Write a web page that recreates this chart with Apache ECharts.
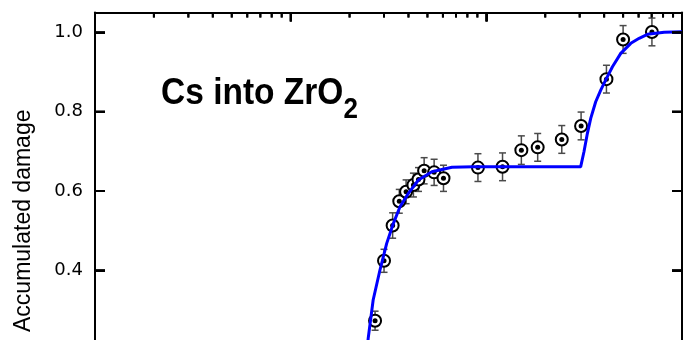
<!DOCTYPE html>
<html>
<head>
<meta charset="utf-8">
<script src="https://cdn.jsdelivr.net/npm/echarts@6/dist/echarts.min.js"></script>
<style>html,body{margin:0;padding:0;background:#fff;}#c{width:691px;height:340px;}</style>
</head>
<body>
<div id="c"></div>
<script>
// Measured data points (fluence, accumulated damage, error)
const fluence = [27.0, 30.0, 33.2, 35.9, 38.9, 42.4, 45.0, 48.1, 54.1, 60.4, 90.6, 121, 151, 183, 243, 305, 411, 500, 702];
const damage  = [0.273, 0.424, 0.513, 0.574, 0.598, 0.615, 0.629, 0.651, 0.647, 0.632, 0.659, 0.661, 0.703, 0.710, 0.730, 0.764, 0.882, 0.982, 1.001];
const errors  = [0.024, 0.029, 0.032, 0.030, 0.030, 0.030, 0.030, 0.033, 0.033, 0.033, 0.035, 0.035, 0.036, 0.035, 0.035, 0.035, 0.035, 0.035, 0.035];

// Fit curve
const fitX = [24.6, 24.9, 26.4, 28.6, 30.96, 33.5, 36.2, 39.96, 44.97, 52.7, 66.7, 86.1, 303.4, 315.5, 328.5, 341.6, 362.2, 384.3, 407.6, 441.1, 486.4, 547.5, 604, 666, 811, 1000];
const fitY = [0.20, 0.2286, 0.3252, 0.4008, 0.468, 0.5185, 0.5604, 0.594, 0.6277, 0.6486, 0.6597, 0.6612, 0.661, 0.699, 0.7454, 0.7832, 0.825, 0.8545, 0.880, 0.9133, 0.947, 0.9723, 0.985, 0.995, 1.0, 1.0015];

// Axis ticks
const yMin = 0, yMax = 1.05, yStep = 0.2;
const yTicks = [0.2, 0.4, 0.6, 0.8, 1.0];
const xMin = 1, xMax = 1000;
const xMajorTicks = [10, 100];
const xMinorTicks = [2,3,4,5,6,7,8,9,20,30,40,50,60,70,80,90,200,300,400,500,600,700,800,900];

const titleMain = 'Cs into ZrO';
const titleSub = '2';
const yName = 'Accumulated damage';

const chart = echarts.init(document.getElementById('c'), null, {renderer: 'canvas'});

const pts = fluence.map((x, i) => [x, damage[i], errors[i]]);
const fit = fitX.map((x, i) => [x, fitY[i]]);

// tick marks: [x, y, dx, dy]
const tickData = []
  .concat(xMajorTicks.map(v => [v, yMax, 0, 9]))
  .concat(xMinorTicks.map(v => [v, yMax, 0, 5]))
  .concat(yTicks.map(v => [xMin, v, 10, 0]))
  .concat(yTicks.map(v => [xMax, v, -10, 0]));

const axisLineStyle = {color: '#000', width: 2};

const titleGraphics = [
  {
    id: 'title-main', type: 'text', x: 161, y: 94, scaleY: 1.13, z: 100,
    style: {text: titleMain, font: 'bold 33.5px "Liberation Sans", Arial, sans-serif', fill: '#000',
      textAlign: 'left', textVerticalAlign: 'middle', verticalAlign: 'middle'}
  },
  {
    id: 'title-sub', type: 'text', x: 343.5, y: 110, scaleY: 1.13, z: 100,
    style: {text: titleSub, font: 'bold 26px "Liberation Sans", Arial, sans-serif', fill: '#000',
      textAlign: 'left', textVerticalAlign: 'middle', verticalAlign: 'middle'}
  }
];

chart.setOption({
  animation: false,
  backgroundColor: '#fff',
  grid: {left: 95, right: 9, top: 12.5, bottom: -89, containLabel: false, outerBoundsMode: 'none'},
  xAxis: [
    {
      type: 'log', logBase: 10, min: xMin, max: xMax, position: 'top',
      axisLine: {show: true, onZero: false, lineStyle: axisLineStyle},
      axisTick: {show: true, inside: true, length: 9, lineStyle: {color: '#000', width: 2}},
      axisLabel: {show: false},
      splitLine: {show: false},
      minorTick: {show: false}
    }
  ],
  yAxis: [
    {
      type: 'value', min: yMin, max: yMax, interval: yStep, position: 'left',
      name: yName, nameLocation: 'middle', nameGap: 60,
      nameTextStyle: {fontFamily: 'Liberation Sans', fontSize: 23, color: '#000'},
      axisLine: {show: true, onZero: false, lineStyle: axisLineStyle},
      axisTick: {show: true, inside: true, length: 10, lineStyle: {color: '#000', width: 2}},
      axisLabel: {show: true, showMaxLabel: false, margin: 12, fontFamily: 'DejaVu Sans', fontSize: 18, color: '#000',
        formatter: v => v.toFixed(1)},
      splitLine: {show: false}
    },
    {
      type: 'value', min: yMin, max: yMax, interval: yStep, position: 'right',
      axisLine: {show: true, onZero: false, lineStyle: axisLineStyle},
      axisTick: {show: true, inside: true, length: 10, lineStyle: {color: '#000', width: 2}},
      axisLabel: {show: false},
      splitLine: {show: false}
    }
  ],
  graphic: {elements: titleGraphics},
  series: [
    {
      // tick marks positioned through the axes' scales (drawn like the error bars)
      type: 'custom', xAxisIndex: 0, yAxisIndex: 0, z: 6, clip: false,
      data: tickData,
      encode: {x: 0, y: 1},
      renderItem: function (params, api) {
        const p = api.coord([api.value(0), api.value(1)]);
        const dx = api.value(2), dy = api.value(3);
        return {
          type: 'group',
          children: [
            {type: 'line', shape: {x1: p[0], y1: p[1], x2: p[0] + dx, y2: p[1] + dy},
              style: {stroke: '#000', lineWidth: 2}}
          ]
        };
      }
    },
    {
      type: 'custom', xAxisIndex: 0, yAxisIndex: 0, z: 2,
      data: pts,
      encode: {x: 0, y: 1},
      renderItem: function (params, api) {
        const x = api.value(0), y = api.value(1), e = api.value(2);
        const top = api.coord([x, y + e]);
        const bot = api.coord([x, y - e]);
        const hw = 3.5;
        const st = {stroke: '#4a4a4a', lineWidth: 1.5};
        return {
          type: 'group',
          children: [
            {type: 'line', shape: {x1: top[0], y1: top[1], x2: bot[0], y2: bot[1]}, style: st},
            {type: 'line', shape: {x1: top[0] - hw, y1: top[1], x2: top[0] + hw, y2: top[1]}, style: st},
            {type: 'line', shape: {x1: bot[0] - hw, y1: bot[1], x2: bot[0] + hw, y2: bot[1]}, style: st}
          ]
        };
      }
    },
    {
      type: 'scatter', xAxisIndex: 0, yAxisIndex: 0, z: 3,
      data: pts.map(p => [p[0], p[1]]),
      symbol: 'circle', symbolSize: 12,
      itemStyle: {color: '#fff', borderColor: '#000', borderWidth: 2, opacity: 1}
    },
    {
      type: 'scatter', xAxisIndex: 0, yAxisIndex: 0, z: 4,
      data: pts.map(p => [p[0], p[1]]),
      symbol: 'circle', symbolSize: 5,
      itemStyle: {color: '#000', opacity: 1}
    },
    {
      type: 'line', xAxisIndex: 0, yAxisIndex: 0, z: 5,
      data: fit, showSymbol: false, smooth: false,
      lineStyle: {color: '#0000ff', width: 3},
      clip: true
    }
  ]
});

// Same tick marks also as graphic lines, placed through the chart's own axis scales
try {
  const finder = {gridIndex: 0};
  const tickLines = [];
  tickData.forEach((t, i) => {
    const p = chart.convertToPixel(finder, [t[0], t[1]]);
    if (p && isFinite(p[0]) && isFinite(p[1])) {
      tickLines.push({id: 'tick' + i, type: 'line', z: 50, silent: true,
        shape: {x1: p[0], y1: p[1], x2: p[0] + t[2], y2: p[1] + t[3]},
        style: {stroke: '#000', lineWidth: 2}});
    }
  });
  chart.setOption({graphic: {elements: titleGraphics.concat(tickLines)}});
} catch (e) { /* keep chart as is */ }
</script>
</body>
</html>
